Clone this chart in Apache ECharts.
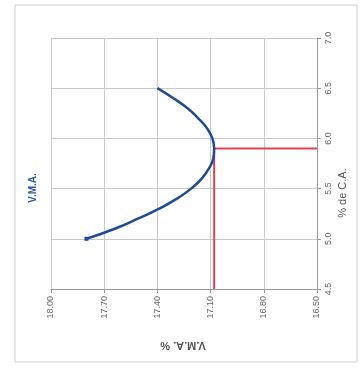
<!DOCTYPE html>
<html>
<head>
<meta charset="utf-8">
<script src="https://cdn.jsdelivr.net/npm/echarts@6/dist/echarts.min.js"></script>
<style>
  html, body { margin: 0; padding: 0; background: #fff; }
  #chart { width: 360px; height: 371px; }
</style>
</head>
<body>
<div id="chart"></div>
<script>
// Asphalt content (% de C.A.) and the measured V.M.A. curve
const caValues  = [5.0, 5.1, 5.2, 5.3, 5.4, 5.5, 5.6, 5.7, 5.8, 5.9, 6.0, 6.1, 6.2, 6.3, 6.4, 6.5];
const vmaValues = [17.80, 17.64, 17.51, 17.39, 17.29, 17.21, 17.15, 17.11, 17.085, 17.08,
                   17.09, 17.12, 17.17, 17.23, 17.31, 17.40];

// Design point
const optimumCA  = 5.9;
const optimumVMA = 17.08;

// Axis ranges
const vmaMin = 16.5, vmaMax = 18.0, vmaStep = 0.3;
const caMin = 4.5, caMax = 7.0, caStep = 0.5;

const curveData = caValues.map((c, i) => (
  i === 0
    ? { value: [vmaValues[i], c], symbol: 'rect', symbolSize: 4 }
    : { value: [vmaValues[i], c], symbol: 'none' }
));
const hLine = [[vmaMin, optimumCA], [optimumVMA, optimumCA]];
const vLine = [[optimumVMA, optimumCA], [optimumVMA, caMin]];

const font = 'Liberation Sans, Arial, sans-serif';
const chart = echarts.init(document.getElementById('chart'));

chart.setOption({
  backgroundColor: '#ffffff',
  animation: false,
  grid: { left: 51, right: 43, top: 38, bottom: 82 },
  xAxis: {
    type: 'value',
    min: vmaMin, max: vmaMax, interval: vmaStep,
    inverse: true,
    position: 'bottom',
    axisLine: { show: true, lineStyle: { color: '#9a9a9a', width: 1 } },
    axisTick: { show: true, length: 4, lineStyle: { color: '#9a9a9a' } },
    splitLine: { show: true, lineStyle: { color: '#c9c9c9', width: 1 } },
    axisLabel: {
      rotate: 90, margin: 7, fontSize: 9, color: '#666', fontFamily: font,
      formatter: v => v.toFixed(2)
    }
  },
  yAxis: {
    type: 'value',
    min: caMin, max: caMax, interval: caStep,
    position: 'right',
    axisLine: { show: true, lineStyle: { color: '#9a9a9a', width: 1 } },
    axisTick: { show: true, length: 4, lineStyle: { color: '#9a9a9a' } },
    splitLine: { show: true, lineStyle: { color: '#c9c9c9', width: 1 } },
    axisLabel: {
      rotate: 90, margin: 7, fontSize: 9, color: '#666', fontFamily: font,
      formatter: v => v.toFixed(1)
    }
  },
  graphic: [
    {
      type: 'rect', silent: true, z: -1,
      shape: { x: 15, y: 5, width: 342, height: 357 },
      style: { fill: 'none', stroke: '#d0d0d0', lineWidth: 1 }
    },
    {
      type: 'text', x: 33, y: 188, rotation: Math.PI / 2,
      style: {
        text: 'V.M.A.', fill: '#2b5a9e', font: 'bold 10px ' + font,
        align: 'center', verticalAlign: 'middle'
      }
    },
    {
      type: 'text', x: 343, y: 193, rotation: Math.PI / 2,
      style: {
        text: '% de C.A.', fill: '#555', font: '11px ' + font,
        align: 'center', verticalAlign: 'middle'
      }
    },
    {
      type: 'text', x: 183, y: 345, rotation: Math.PI,
      style: {
        text: 'V.M.A. %', fill: '#555', font: 'bold 11px ' + font,
        align: 'center', verticalAlign: 'middle'
      }
    }
  ],
  series: [
    {
      type: 'line', data: hLine, symbol: 'none', z: 3,
      lineStyle: { color: '#e2424f', width: 2 }
    },
    {
      type: 'line', data: vLine, symbol: 'none', z: 3,
      lineStyle: { color: '#e2424f', width: 2 }
    },
    {
      type: 'line', data: curveData, smooth: 0.5, z: 4,
      showSymbol: true,
      itemStyle: { color: '#1f4b92' },
      lineStyle: { color: '#1f4b92', width: 2.5 }
    }
  ]
});
</script>
</body>
</html>
